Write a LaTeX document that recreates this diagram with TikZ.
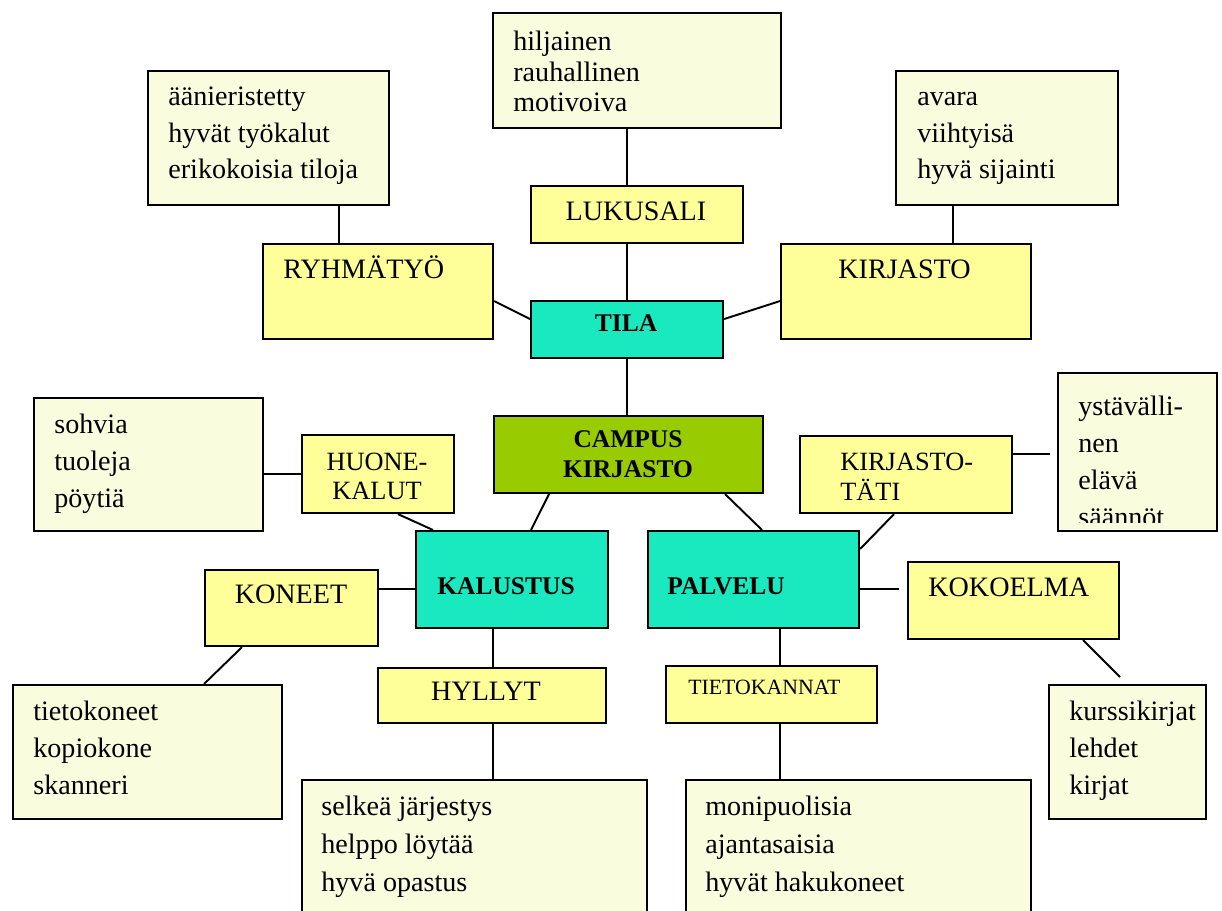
\documentclass[tikz,border=0pt]{standalone}
\usepackage{fontspec}
\setmainfont{Liberation Serif}
\usepackage{xcolor}
\definecolor{kirjPale}{RGB}{250, 252, 222}
\definecolor{kirjYellow}{RGB}{255, 255, 153}
\definecolor{kirjTeal}{RGB}{26, 232, 190}
\definecolor{kirjGreen}{RGB}{153, 204, 0}

\begin{document}
\begin{tikzpicture}[x=0.02cm, y=-0.02cm,
    box/.style={draw, line width=1.2pt, anchor=north west, inner sep=0pt},
    sz/.style 2 args={minimum width=#1*0.02cm, minimum height=#2*0.02cm},
    pale/.style={box, fill=kirjPale},
    yel/.style={box, fill=kirjYellow},
    teal/.style={box, fill=kirjTeal},
    lst/.style={align=left, anchor=base west, inner sep=0pt, font=\fontsize{16}{21}\selectfont},
    lbl/.style={inner sep=0pt, anchor=base, font=\fontsize{16}{17}\selectfont},
    bld/.style={inner sep=0pt, anchor=base, font=\fontsize{14.5}{17}\selectfont\bfseries},
    conn/.style={line width=1.1pt}]
    \useasboundingbox (0,0) rectangle (1222,911);

    % TILA branch
    \node[pale, sz={288}{115}] (hilj) at (492,12) {};
    \node[lst, font=\fontsize{16}{17.5}\selectfont] (hiljT) at (513,112) {hiljainen\\rauhallinen\\motivoiva};
    \node[pale, sz={241}{134}] (aani) at (147,70) {};
    \node[lst] (aaniT) at (168,179) {äänieristetty\\hyvät työkalut\\erikokoisia tiloja};
    \node[pale, sz={222}{134}] (avara) at (895,70) {};
    \node[lst] (avaraT) at (917,179) {avara\\viihtyisä\\hyvä sijainti};
    \node[yel, sz={212}{57}] (lukusali) at (530,185) {};
    \node[lbl] (lukusaliT) at (636,221) {LUKUSALI};
    \node[yel, sz={230}{95}] (ryhma) at (262,243) {};
    \node[lbl, anchor=base west] (ryhmaT) at (283,279) {RYHMÄTYÖ};
    \node[yel, sz={250}{95}] (kirjasto) at (780,243) {};
    \node[lbl, anchor=base west] (kirjastoT) at (838,279) {KIRJASTO};
    \node[teal, sz={192}{57}] (tila) at (530,300) {};
    \node[bld] (tilaT) at (626,332) {TILA};

    % Centre
    \node[box, fill=kirjGreen, sz={269}{77}] (campus) at (493,415) {};
    \node[bld, align=center] (campusT) at (628,477) {CAMPUS\\KIRJASTO};

    % KALUSTUS branch
    \node[pale, sz={229}{133}] (sohvia) at (33,397) {};
    \node[lst] (sohviaT) at (54,507) {sohvia\\tuoleja\\pöytiä};
    \node[yel, sz={152}{78}] (huone) at (301,434) {};
    \node[lbl, align=center, font=\fontsize{15}{16.5}\selectfont] (huoneT) at (377,499) {HUONE-\\KALUT};
    \node[teal, sz={192}{97}] (kalustus) at (415,530) {};
    \node[bld, anchor=base west] (kalustusT) at (437,594) {KALUSTUS};
    \node[yel, sz={173}{76}] (koneet) at (204,569) {};
    \node[lbl] (koneetT) at (291,603) {KONEET};
    \node[yel, sz={228}{55}] (hyllyt) at (377,667) {};
    \node[lbl] (hyllytT) at (486,700) {HYLLYT};
    \node[pale, sz={269}{134}] (tkone) at (12,684) {};
    \node[lst] (tkoneT) at (33,794) {tietokoneet\\kopiokone\\skanneri};
    \node[pale, sz={345}{150}] (selkea) at (301,779) {};
    \node[lst, font=\fontsize{16}{21.5}\selectfont] (selkeaT) at (321,891) {selkeä järjestys\\helppo löytää\\hyvä opastus};

    % PALVELU branch
    \node[yel, sz={212}{77}] (tati) at (799,435) {};
    \node[lbl, align=left, anchor=base west, font=\fontsize{15}{17}\selectfont] (tatiT) at (840,500) {KIRJASTO-\\TÄTI};
    \node[pale, sz={159}{158}] (yst) at (1057,372) {};
    \begin{scope}
        \clip (yst.north west) rectangle ([shift={(0,-10)}]yst.south east);
        \node[lst, font=\fontsize{16}{21}\selectfont] (ystT) at (1078,526) {ystävälli-\\nen\\elävä\\säännöt};
    \end{scope}
    \node[teal, sz={211}{97}] (palvelu) at (647,530) {};
    \node[bld, anchor=base west] (palveluT) at (667,594) {PALVELU};
    \node[yel, sz={211}{77}] (kokoelma) at (907,561) {};
    \node[lbl, anchor=base west] (kokoelmaT) at (928,596) {KOKOELMA};
    \node[yel, sz={211}{57}] (tieto) at (665,665) {};
    \node[lbl, anchor=base west, font=\fontsize{12.4}{14}\selectfont] (tietoT) at (688,694) {TIETOKANNAT};
    \node[pale, sz={157}{134}] (kurssi) at (1048,684) {};
    \node[lst] (kurssiT) at (1069,794) {kurssikirjat\\lehdet\\kirjat};
    \node[pale, sz={345}{150}] (moni) at (685,779) {};
    \node[lst, font=\fontsize{16}{21.5}\selectfont] (moniT) at (705,891) {monipuolisia\\ajantasaisia\\hyvät hakukoneet};

    % helper points
    \coordinate (aaniX) at ([shift={(77,0)}]ryhma.north west);
    \coordinate (avaraX) at ([shift={(173,0)}]kirjasto.north west);
    \coordinate (hyllytX) at ([shift={(78,0)}]kalustus.south west);
    \coordinate (tietoX) at ([shift={(133,0)}]palvelu.south west);
    \coordinate (ystEnd) at ([shift={(37,19)}]tati.north east);
    \coordinate (kokoEnd) at ([shift={(39,59)}]palvelu.north east);
    \coordinate (kurssiEnd) at ([shift={(72,-7)}]kurssi.north west);

    % connectors
    \draw[conn] (hilj.south -| tila.north) -- (lukusali.north -| tila.north);
    \draw[conn] (lukusali.south -| tila.north) -- (tila.north);
    \draw[conn] (tila.south) -- (campus.north -| tila.south);
    \draw[conn] (aaniX |- aani.south) -- (aaniX);
    \draw[conn, line width=1.6pt] (avaraX |- avara.south) -- (avaraX);
    \draw[conn] ([shift={(0,9.5)}]ryhma.east) -- ([shift={(0,-10.5)}]tila.west);
    \draw[conn] ([shift={(0,9.5)}]kirjasto.west) -- ([shift={(0,-10.5)}]tila.east);
    \draw[conn] ([shift={(56,0)}]campus.south west) -- ([shift={(116,0)}]kalustus.north west);
    \draw[conn] ([shift={(-39,0)}]campus.south east) -- ([shift={(115,0)}]palvelu.north west);
    \draw[conn] (huone.west -| sohvia.east) -- (huone.west);
    \draw[conn] ([shift={(97,0)}]huone.south west) -- ([shift={(18,0)}]kalustus.north west);
    \draw[conn] ([shift={(0,20)}]koneet.north east) -- ([shift={(0,20)}]koneet.north east -| kalustus.west);
    \draw[conn] ([shift={(38,0)}]koneet.south west) -- ([shift={(192,0)}]tkone.north west);
    \draw[conn] (hyllytX) -- (hyllytX |- hyllyt.north);
    \draw[conn] (hyllytX |- hyllyt.south) -- (hyllytX |- selkea.north);
    \draw[conn] ([shift={(95,0)}]tati.south west) -- ([shift={(0,19)}]palvelu.north east);
    \draw[conn] ([shift={(0,19)}]tati.north east) -- (ystEnd);
    \draw[conn] ([shift={(0,59)}]palvelu.north east) -- (kokoEnd);
    \draw[conn] ([shift={(-37,0)}]kokoelma.south east) -- (kurssiEnd);
    \draw[conn] (tietoX) -- (tietoX |- tieto.north);
    \draw[conn] (tietoX |- tieto.south) -- (tietoX |- moni.north);
\end{tikzpicture}
\end{document}
